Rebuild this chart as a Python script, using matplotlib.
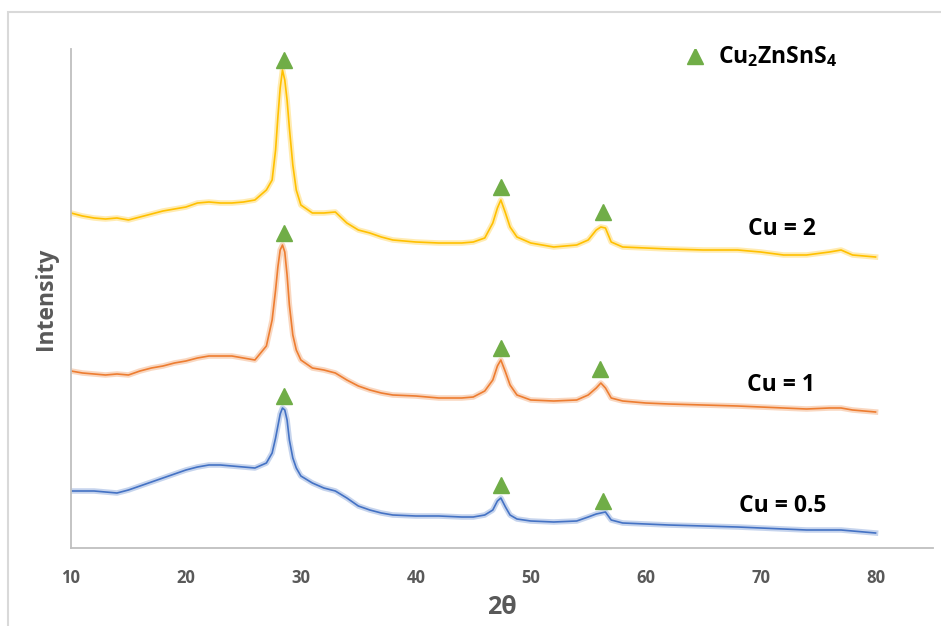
import matplotlib.pyplot as plt
from matplotlib.patches import Rectangle

plt.rcParams['font.family'] = ['Open Sans', 'DejaVu Sans']
plt.rcParams['mathtext.fontset'] = 'custom'
plt.rcParams['mathtext.rm'] = 'Open Sans'
plt.rcParams['mathtext.bf'] = 'Open Sans:bold'

# 2θ grid
two_theta = [10, 11, 12, 13, 14, 15, 16, 17, 18, 19, 20, 21, 22, 23, 24, 25, 26, 27,
             27.5, 27.8, 28.0, 28.2, 28.4, 28.6, 28.8, 29.0, 29.3, 29.6,
             30, 31, 32, 33, 34, 35, 36, 37, 38, 40, 42, 44, 45, 46,
             46.7, 47.1, 47.4, 47.8, 48.2, 48.8, 50, 52, 54, 55,
             55.7, 56.1, 56.5, 57, 58, 60, 62, 65, 68, 70, 72, 74, 76, 77, 78, 80]

# intensities (arbitrary units, stacked)
cu_2 = [335, 332, 330, 329, 330, 328, 331, 334, 337, 339, 341, 345, 346, 345, 345, 346, 348, 358,
        368, 398, 431, 460, 478, 468, 448, 420, 383, 358,
        343, 335, 335, 336, 325, 318, 315, 311, 308, 306, 305, 305, 306, 310,
        325, 340, 348, 335, 321, 311, 305, 301, 303, 308,
        318, 321, 320, 306, 301, 300, 299, 298, 298, 296, 293, 293, 296, 298, 293, 291]
cu_1 = [177, 175, 174, 173, 174, 173, 177, 180, 182, 185, 187, 190, 192, 192, 192, 190, 188, 202,
        228, 258, 281, 298, 303, 296, 273, 243, 213, 198,
        188, 180, 178, 175, 168, 162, 158, 155, 153, 152, 150, 150, 151, 157,
        168, 182, 188, 176, 163, 153, 148, 147, 148, 153,
        160, 165, 160, 150, 147, 145, 144, 143, 142, 141, 140, 139, 140, 140, 138, 136]
cu_05 = [57, 57, 57, 56, 55, 58, 62, 66, 70, 74, 78, 81, 83, 83, 82, 81, 80, 85,
         95, 110, 122, 134, 140, 138, 128, 108, 90, 80,
         72, 65, 60, 57, 50, 42, 38, 35, 33, 32, 32, 31, 31, 33,
         38, 47, 50, 41, 33, 29, 27, 26, 27, 31,
         34, 35, 36, 28, 25, 24, 23, 22, 21, 20, 19, 18, 18, 18, 17, 15]

# Cu2ZnSnS4 peak markers
mark_x_2 = [28.5, 47.4, 56.3]
mark_y_2 = [488, 361, 336]
mark_x_1 = [28.5, 47.45, 56.05]
mark_y_1 = [315, 200, 179]
mark_x_05 = [28.55, 47.45, 56.3]
mark_y_05 = [152, 63, 47]

green = '#70AD47'
gray = '#595959'

fig = plt.figure(figsize=(9.41, 6.26), dpi=100)
ax = fig.add_axes([71/941, 78/626, 862/941, 499/626])

for y, c in [(cu_05, '#4472C4'), (cu_1, '#ED7D31'), (cu_2, '#FFC000')]:
    ax.plot(two_theta, y, color=c, lw=4, alpha=0.3, solid_joinstyle='round')
    ax.plot(two_theta, y, color=c, lw=1.2)

for mx, my in [(mark_x_2, mark_y_2), (mark_x_1, mark_y_1), (mark_x_05, mark_y_05)]:
    ax.plot(mx, my, ls='none', marker='^', ms=11, color=green, mec=green)

# legend-like annotation
ax.plot([64.25], [492], ls='none', marker='^', ms=11, color=green, mec=green)
ax.text(66.3, 491, r'$\mathbf{Cu_2ZnSnS_4}$', fontsize=16.5, va='center')

ax.text(68.9, 319, 'Cu = 2', fontsize=16.5, fontweight='bold', va='center')
ax.text(68.8, 163, 'Cu = 1', fontsize=16.5, fontweight='bold', va='center')
ax.text(68.1, 42, 'Cu = 0.5', fontsize=16.5, fontweight='bold', va='center')

ax.set_xlim(10, 85)
ax.set_ylim(0, 499)
ax.set_xticks([10, 20, 30, 40, 50, 60, 70, 80])
ax.set_yticks([])
ax.tick_params(axis='x', length=0, pad=15, labelsize=12, labelcolor=gray)
for lbl in ax.get_xticklabels():
    lbl.set_fontweight('bold')
for s in ['top', 'right']:
    ax.spines[s].set_visible(False)
for s in ['left', 'bottom']:
    ax.spines[s].set_color('#BFBFBF')
    ax.spines[s].set_linewidth(1.3)

ax.set_xlabel('2θ', fontsize=18, fontweight='bold', color=gray, labelpad=6)
ax.set_ylabel('Intensity', fontsize=16.5, fontweight='bold', color=gray, labelpad=9)

fig.patches.append(Rectangle((7.5/941, -0.1), 1.2, 614/626 + 0.1, fill=False,
                             edgecolor='#D9D9D9', lw=1.5, transform=fig.transFigure))

fig.savefig('out.png', dpi=100)
